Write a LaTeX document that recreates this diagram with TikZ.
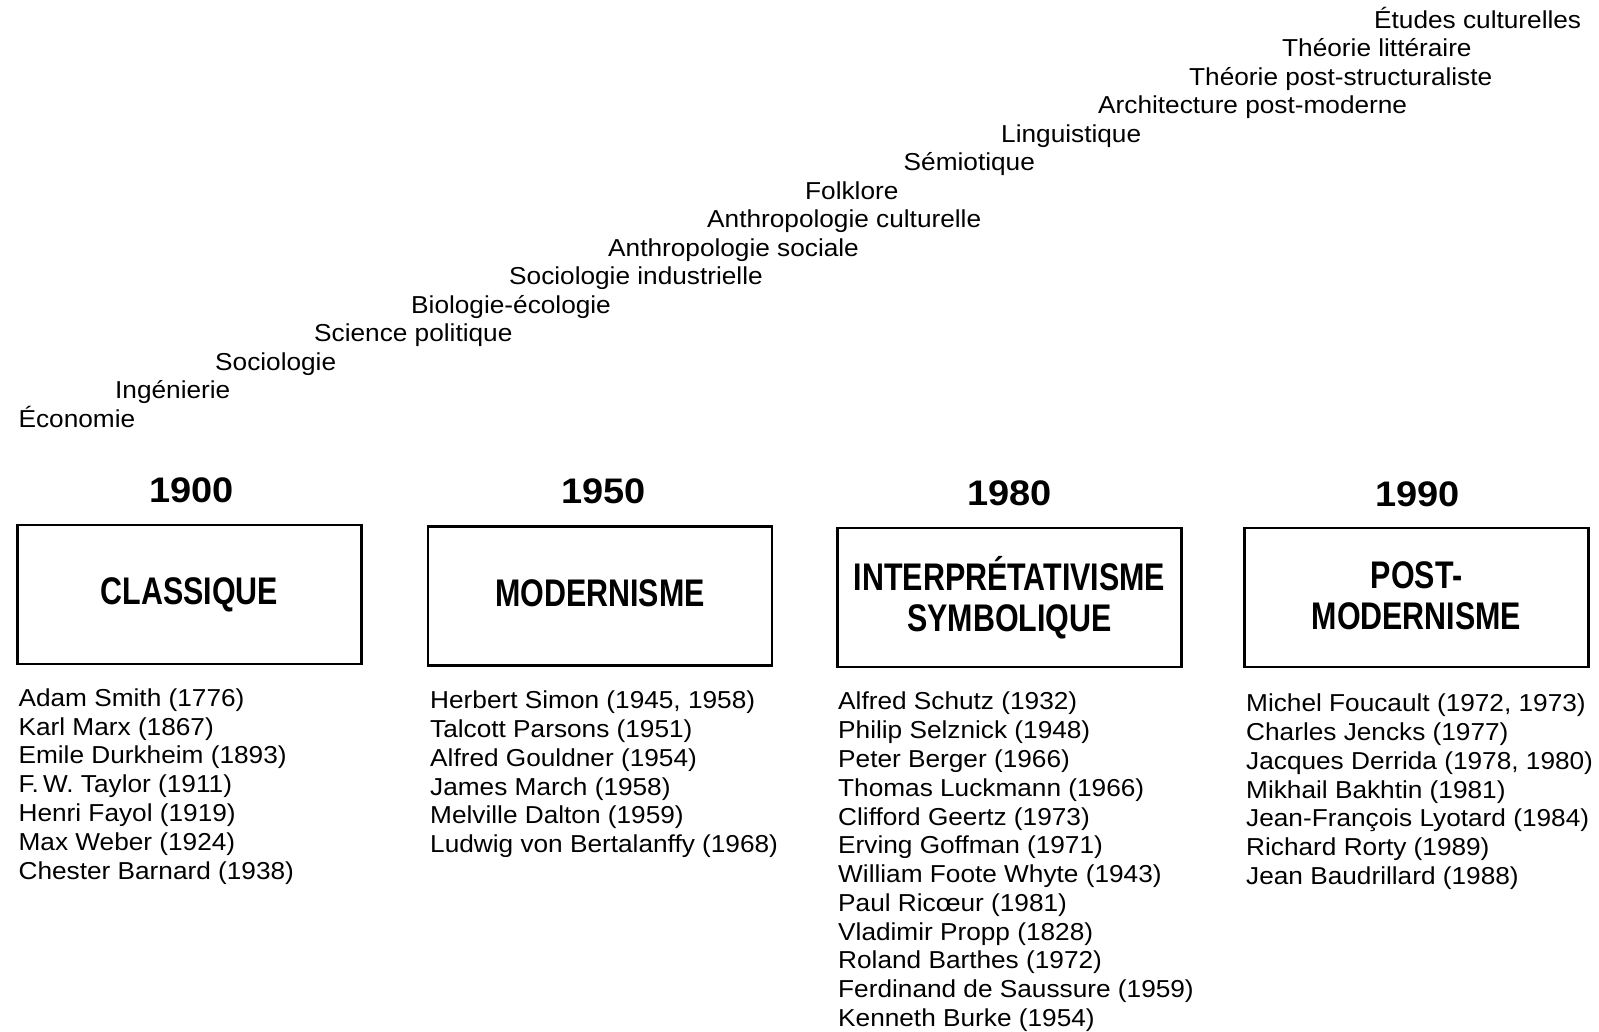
\documentclass[tikz,border=0pt]{standalone}
\usepackage{fontspec}
\setmainfont{Liberation Sans}
\newfontfamily\labfont[FakeStretch=1.07]{Liberation Sans}
\newfontfamily\ttlfont[FakeStretch=0.79]{Liberation Sans}
\begin{document}
\begin{tikzpicture}[x=1pt,y=-1pt,
  field/.style={font=\labfont\fontsize{24.5}{28.76}\selectfont, inner sep=0pt, anchor=base west},
  yearlbl/.style={font=\labfont\bfseries\fontsize{35.5}{40}\selectfont, inner sep=0pt, anchor=base},
  periodbox/.style={draw, line width=2.6pt, minimum width=344pt, minimum height=139pt, inner sep=0pt,
    align=center, font=\ttlfont\bfseries\fontsize{38.5}{41}\selectfont},
  names/.style={font=\labfont\fontsize{24.5}{28.76}\selectfont, inner sep=0pt, anchor=north west, align=left}]
\useasboundingbox (0,0) rectangle (1599,1032);
\fill[white] (0,0) rectangle (1599,1032);

% staircase of disciplines
\node[field] (f0)  at (18.4,427.0) {Économie};
\node[field] (f1)  at (115,398.5) {Ingénierie};
\node[field] (f2)  at (215,370.1) {Sociologie};
\node[field] (f3)  at (314,341.6) {Science politique};
\node[field] (f4)  at (411,313.1) {Biologie-écologie};
\node[field] (f5)  at (509,284.7) {Sociologie industrielle};
\node[field] (f6)  at (608,256.2) {Anthropologie sociale};
\node[field] (f7)  at (707,227.7) {Anthropologie culturelle};
\node[field] (f8)  at (805,199.2) {Folklore};
\node[field] (f9)  at (903.5,170.8) {Sémiotique};
\node[field] (f10) at (1001,142.3) {Linguistique};
\node[field] (f11) at (1098,113.8) {Architecture post-moderne};
\node[field] (f12) at (1189,85.4) {Théorie post-structuraliste};
\node[field] (f13) at (1282,56.9) {Théorie littéraire};
\node[field] (f14) at (1374,28.4) {Études culturelles};

% years
\node[yearlbl] (y1) at (191.7,502.8) {1900};
\node[yearlbl] (y2) at (603.7,503.8) {1950};
\node[yearlbl] (y3) at (1009.6,505.8) {1980};
\node[yearlbl] (y4) at (1417.5,506.9) {1990};

% period boxes
\node[periodbox] (b1) at (189.5,594.5) {CLASSIQUE};
\node[periodbox, text depth=6pt] (b2) at (600,596) {MODERNISME};
\node[periodbox, text depth=8pt] (b3) at (1009.5,597.5) {INTERPRÉTATIVISME\\SYMBOLIQUE};
\node[periodbox, text depth=3pt] (b4) at (1416.5,597.5) {POST-\\MODERNISME};

% author lists
\node[names] (l1) at (18.4,688.5) {Adam Smith (1776)\\Karl Marx (1867)\\Emile Durkheim (1893)\\F.\,W. Taylor (1911)\\Henri Fayol (1919)\\Max Weber (1924)\\Chester Barnard (1938)};
\node[names] (l2) at (430,691) {Herbert Simon (1945, 1958)\\Talcott Parsons (1951)\\Alfred Gouldner (1954)\\James March (1958)\\Melville Dalton (1959)\\Ludwig von Bertalanffy (1968)};
\node[names] (l3) at (838,692) {Alfred Schutz (1932)\\Philip Selznick (1948)\\Peter Berger (1966)\\Thomas Luckmann (1966)\\Clifford Geertz (1973)\\Erving Goffman (1971)\\William Foote Whyte (1943)\\Paul Ricœur (1981)\\Vladimir Propp (1828)\\Roland Barthes (1972)\\Ferdinand de Saussure (1959)\\Kenneth Burke (1954)};
\node[names] (l4) at (1246,694) {Michel Foucault (1972, 1973)\\Charles Jencks (1977)\\Jacques Derrida (1978, 1980)\\Mikhail Bakhtin (1981)\\Jean-François Lyotard (1984)\\Richard Rorty (1989)\\Jean Baudrillard (1988)};
\end{tikzpicture}
\end{document}
